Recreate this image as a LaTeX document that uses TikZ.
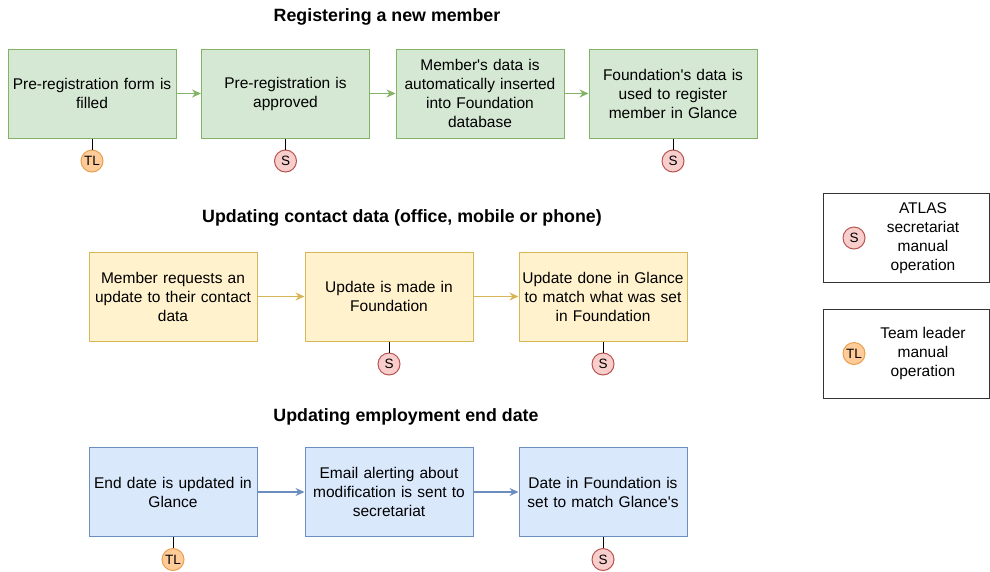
\documentclass[tikz,border=0pt]{standalone}
\usepackage{fontspec}
\setmainfont{Liberation Sans}
\usetikzlibrary{arrows.meta,positioning}

\definecolor{greenfill}{HTML}{D5E8D4}
\definecolor{greenline}{HTML}{82B366}
\definecolor{yellowfill}{HTML}{FFF2CC}
\definecolor{yellowline}{HTML}{D6B656}
\definecolor{bluefill}{HTML}{DAE8FC}
\definecolor{blueline}{HTML}{6C8EBF}
\definecolor{redfill}{HTML}{F8CECC}
\definecolor{redline}{HTML}{B85450}
\definecolor{orangefill}{HTML}{FFCC99}
\definecolor{orangeline}{HTML}{E8A050}

\newcommand{\apos}{\textquotesingle}

\tikzset{
  stepbox/.style={rectangle, minimum width=168pt, minimum height=89pt, inner sep=2pt, text width=164pt,
    align=center, font=\fontsize{15.5}{19}\selectfont, line width=1pt},
  greenbox/.style={stepbox, fill=greenfill, draw=greenline},
  yellowbox/.style={stepbox, fill=yellowfill, draw=yellowline},
  bluebox/.style={stepbox, fill=bluefill, draw=blueline},
  who/.style={circle, minimum size=22pt, inner sep=0pt, line width=1pt,
    font=\fontsize{13.5}{15}\selectfont},
  secr/.style={who, fill=redfill, draw=redline},
  lead/.style={who, fill=orangefill, draw=orangeline},
  title/.style={font=\fontsize{17.8}{20}\bfseries\selectfont},
  flow/.style={-{Stealth[length=9pt,width=8pt]}, line width=1.2pt},
  tie/.style={line width=1pt},
  legendbox/.style={rectangle, draw=black!80, line width=1pt, minimum width=166pt, minimum height=89pt}
}

\begin{document}
\begin{tikzpicture}[x=1pt, y=-1pt]
      \useasboundingbox (0,0) rectangle (990,571);

      % Registering a new member
      \node[title] (t1) at (387,17) {Registering a new member};
      \node[greenbox] (r1) at (92,93.5) {Pre-registration form is\\filled};
      \node[greenbox] (r2) at (285.5,93.5) {Pre-registration is\\approved};
      \node[greenbox] (r3) at (480,93.5) {Member\apos s data is\\automatically inserted\\into Foundation\\database};
      \node[greenbox] (r4) at (673,93.5) {Foundation\apos s data is\\used to register\\member in Glance};
      \draw[flow, greenline] (r1) -- (r2);
      \draw[flow, greenline] (r2) -- (r3);
      \draw[flow, greenline] (r3) -- (r4);
      \node[lead, below=11pt of r1] (r1w) {TL};
      \node[secr, below=11pt of r2] (r2w) {S};
      \node[secr, below=11pt of r4] (r4w) {S};
      \draw[tie] (r1) -- (r1w);
      \draw[tie] (r2) -- (r2w);
      \draw[tie] (r4) -- (r4w);

      % Updating contact data
      \node[title] (t2) at (402,218) {Updating contact data (office, mobile or phone)};
      \node[yellowbox] (c1) at (173,296.5) {Member requests an\\update to their contact\\data};
      \node[yellowbox] (c2) at (389,296.5) {Update is made in\\Foundation};
      \node[yellowbox] (c3) at (603,296.5) {Update done in Glance\\to match what was set\\in Foundation};
      \draw[flow, yellowline] (c1) -- (c2);
      \draw[flow, yellowline] (c2) -- (c3);
      \node[secr, below=11pt of c2] (c2w) {S};
      \node[secr, below=11pt of c3] (c3w) {S};
      \draw[tie] (c2) -- (c2w);
      \draw[tie] (c3) -- (c3w);

      % Updating employment end date
      \node[title] (t3) at (406,417) {Updating employment end date};
      \node[bluebox] (e1) at (173,492) {End date is updated in\\Glance};
      \node[bluebox] (e2) at (389,492) {Email alerting about\\modification is sent to\\secretariat};
      \node[bluebox] (e3) at (603,492) {Date in Foundation is\\set to match Glance\apos s};
      \draw[flow, blueline] (e1) -- (e2);
      \draw[flow, blueline] (e2) -- (e3);
      \node[lead, below=11pt of e1] (e1w) {TL};
      \node[secr, below=11pt of e3] (e3w) {S};
      \draw[tie] (e1) -- (e1w);
      \draw[tie] (e3) -- (e3w);

      % Legend
      \node[legendbox] (l1) at (906,238) {};
      \node[secr] (l1w) at (854,238) {S};
      \node[align=center, font=\fontsize{15.5}{19}\selectfont] (l1t) at (923,238) {ATLAS\\secretariat\\manual\\operation};
      \node[legendbox] (l2) at (906,353.5) {};
      \node[lead] (l2w) at (854,353.5) {TL};
      \node[align=center, font=\fontsize{15.5}{19}\selectfont] (l2t) at (923,353.5) {Team leader\\manual\\operation};
    \end{tikzpicture}
\end{document}
